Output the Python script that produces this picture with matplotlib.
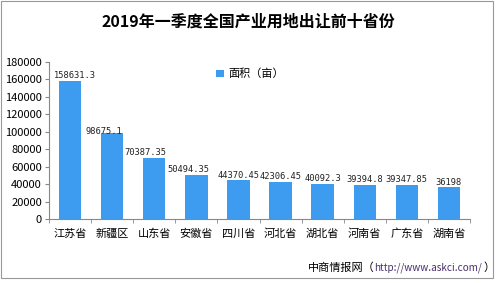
import matplotlib.pyplot as plt
import numpy as np
from matplotlib.patches import Rectangle

plt.rcParams['font.family'] = ['Noto Sans CJK SC', 'DejaVu Sans']

provinces = ['江苏省', '新疆区', '山东省', '安徽省', '四川省', '河北省', '湖北省', '河南省', '广东省', '湖南省']
area = [158631.3, 98675.1, 70387.35, 50494.35, 44370.45, 42306.45, 40092.3, 39394.8, 39347.85, 36198]
labels = ['158631.3', '98675.1', '70387.35', '50494.35', '44370.45', '42306.45', '40092.3', '39394.8', '39347.85', '36198']
# small horizontal nudges of the value labels, as in the original
label_shift = [0.12, -0.2, -0.2, -0.2, 0, 0, 0, 0, 0, 0]
label_lift = [6000, 1500, 6000, 6000, 6000, 6000, 6000, 6000, 6000, 6000]

fig = plt.figure(figsize=(5, 2.83), dpi=100)
ax = fig.add_axes([0.098, 0.226, 0.842, 0.555])

x = np.arange(len(provinces))
ax.bar(x, area, width=0.53, color='#3d9cf0', label='面积（亩）', zorder=2)

for xi, v, s, dx, dy in zip(x, area, labels, label_shift, label_lift):
    ax.text(xi + dx, v + dy, s, ha='center', va='center', fontsize=6.3,
            family=['DejaVu Sans Mono'], color='#222222')

ax.set_xlim(-0.5, len(provinces) - 0.5)
ax.set_ylim(0, 180000)
ax.set_yticks(np.arange(0, 180001, 20000))
ax.set_xticks(x)
ax.set_xticklabels(provinces, fontsize=8)
ax.set_xticks(np.arange(-0.5, len(provinces), 1), minor=True)
ax.tick_params(axis='x', which='major', length=0, pad=7)
ax.tick_params(axis='x', which='minor', length=3, color='#888888')
ax.tick_params(axis='y', labelsize=8, length=3, color='#888888', pad=2)

for side in ['top', 'right']:
    ax.spines[side].set_visible(False)
for side in ['left', 'bottom']:
    ax.spines[side].set_color('#888888')
    ax.spines[side].set_linewidth(0.8)

ax.legend(loc='upper left', bbox_to_anchor=(0.373, 1.02), frameon=False,
          fontsize=8, handlelength=0.7, handleheight=0.7, handletextpad=0.4)

fig.text(0.496, 0.925, '2019年一季度全国产业用地出让前十省份', ha='center', va='center',
         fontsize=11.5, fontweight='bold')
fig.text(0.616, 0.053, '中商情报网（', ha='left', va='center', fontsize=8)
fig.text(0.748, 0.053, 'http://www.askci.com/', ha='left', va='center', fontsize=7.2,
         color='#4a2f6e')
fig.text(0.966, 0.053, '）', ha='left', va='center', fontsize=8)

fig.patches.append(Rectangle((0.001, 0.018), 0.985, 0.98, transform=fig.transFigure,
                             fill=False, edgecolor='#999999', linewidth=0.8))

fig.savefig('out.png', dpi=100)
